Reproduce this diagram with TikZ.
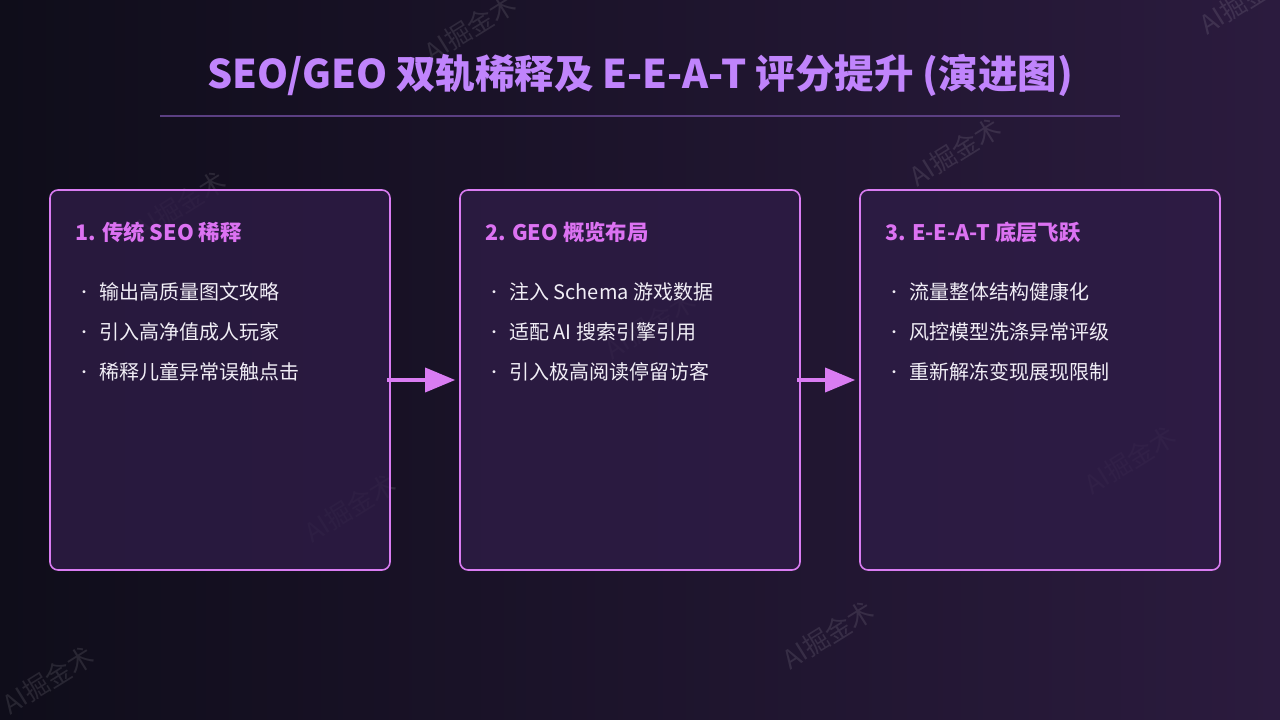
\documentclass[tikz,border=0pt]{standalone}
\usepackage{fontspec}
\setmainfont{Noto Sans CJK SC}
\usetikzlibrary{arrows.meta, positioning}
\definecolor{bgleft}{HTML}{0F0D1A}
\definecolor{bgright}{HTML}{2B1B3E}
\definecolor{titlepurple}{HTML}{C084FC}
\definecolor{rulepurple}{HTML}{5B3F82}
\definecolor{boxedge}{HTML}{D97CF2}
\definecolor{boxfill}{HTML}{2E1C46}
\definecolor{headpink}{HTML}{DC72F2}
\definecolor{bullettext}{HTML}{F1EEF6}

\begin{document}
\begin{tikzpicture}[x=1pt, y=-1pt,
  stage/.style={draw=boxedge, fill=boxfill, fill opacity=0.8, draw opacity=1,
                line width=1.6pt, rounded corners=8pt, inner sep=0pt},
  head/.style={anchor=west, inner sep=0pt, text=headpink,
               font=\fontsize{21.4}{25}\selectfont\bfseries},
  item/.style={anchor=west, inner sep=0pt, text=bullettext, font=\fontsize{20}{24}\selectfont},
  dot/.style={anchor=center, inner sep=0pt, text=bullettext, font=\fontsize{14}{16}\selectfont},
  flow/.style={-{Triangle[length=30pt, width=24pt]}, draw=boxedge, line width=3.5pt},
  wm/.style={text=white, text opacity=0.10, rotate=32, font=\fontsize{26}{30}\selectfont}
]
% canvas
\shade[left color=bgleft, right color=bgright] (0,0) rectangle (1280,720);
\useasboundingbox (0,0) rectangle (1280,720);

% watermarks
\foreach \wx/\wy [count=\k] in {470/28, 1245/0, 180/205, 955/152, 650/325,
                                350/508, 1130/460, 828/635, 48/680}
  \node[wm] (wm\k) at (\wx,\wy) {AI掘金术};

% title
\node[text=titlepurple, font=\fontsize{39.5}{46}\selectfont\bfseries] (title) at (640,75)
  {SEO/GEO 双轨稀释及 E-E-A-T 评分提升 (演进图)};
\coordinate (rl) at (160,116);
\coordinate (rr) at (1120,116);
\draw[rulepurple, line width=1.6pt] (rl) -- (rr);

% stage boxes
\node[stage, minimum width=340pt, minimum height=380pt] (s1) at (220,380) {};
\node[stage, minimum width=340pt, minimum height=380pt] (s2) at (630,380) {};
\node[stage, minimum width=360pt, minimum height=380pt] (s3) at (1040,380) {};

\node[head] (h1) at (75,232)  {1. 传统 SEO 稀释};
\node[head] (h2) at (485,232) {2. GEO 概览布局};
\node[head] (h3) at (885,232) {3. E-E-A-T 底层飞跃};

% bullets
\foreach \bx/\n/\ta/\tb/\tc in {
    84/1/输出高质量图文攻略/引入高净值成人玩家/稀释儿童异常误触点击,
    494/2/注入 Schema 游戏数据/适配 AI 搜索引擎引用/引入极高阅读停留访客,
    894/3/流量整体结构健康化/风控模型洗涤异常评级/重新解冻变现展现限制} {
  \foreach \t [count=\i] in {\ta,\tb,\tc} {
    \node[dot] (d\n\i) at (\bx,254+40*\i) {•};
    \node[item] (t\n\i) at (\bx+15,252+40*\i) {\t};
  }
}

% arrows
\draw[flow, shorten <=-4pt, shorten >=4pt] (s1.east) -- (s2.west);
\draw[flow, shorten <=-4pt, shorten >=4pt] (s2.east) -- (s3.west);
\end{tikzpicture}
\end{document}
